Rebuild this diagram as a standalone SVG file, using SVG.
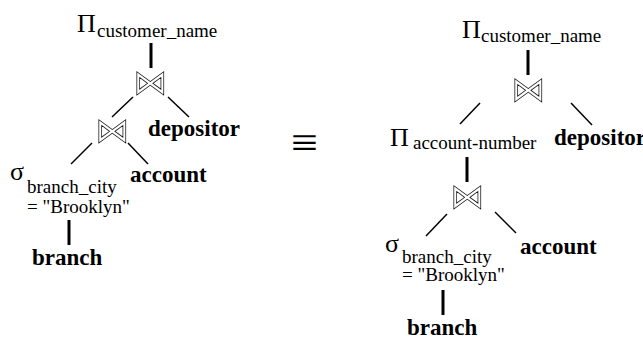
<svg xmlns="http://www.w3.org/2000/svg" width="643" height="338" viewBox="0 0 643 338">
  <defs>
    <!-- keeps the outlined join glyphs neutral grey when antialiased -->
    <filter id="mono" x="-10%" y="-10%" width="120%" height="120%">
      <feColorMatrix type="saturate" values="0"/>
    </filter>
  </defs>
  <style>
    text { font-family: "Liberation Serif", "Times New Roman", serif; fill: #000; }
    .op { font-size: 26px; }
    .sub { font-size: 19px; }
    .rel { font-size: 23px; font-weight: bold; }
    .join { font-family: "DejaVu Sans", sans-serif; font-size: 34px; text-anchor: middle; fill: none; stroke: #111; stroke-width: 0.75; }
    .equiv { font-size: 32px; }
    .thick { stroke: #000; stroke-width: 3; }
    .thin { stroke: #000; stroke-width: 1.5; }
  </style>
  <rect width="643" height="338" fill="#fff"/>

  <!-- connectors -->
  <g id="connectors">
    <!-- left tree -->
    <line class="thick" x1="151" y1="43" x2="151" y2="68"/>
    <line class="thin" x1="133" y1="97" x2="112" y2="117"/>
    <line class="thin" x1="168" y1="97" x2="189" y2="117"/>
    <line class="thin" x1="92" y1="143" x2="71" y2="164"/>
    <line class="thin" x1="128" y1="143" x2="148" y2="164"/>
    <line class="thick" x1="69" y1="220" x2="69" y2="245"/>
    <!-- right tree -->
    <line class="thick" x1="528" y1="50" x2="528" y2="75"/>
    <line class="thin" x1="480" y1="103" x2="460" y2="124"/>
    <line class="thin" x1="571" y1="103" x2="592" y2="125"/>
    <line class="thick" x1="467" y1="157" x2="467" y2="182"/>
    <line class="thin" x1="447" y1="214" x2="426" y2="236"/>
    <line class="thin" x1="495" y1="212" x2="516" y2="233"/>
    <line class="thick" x1="443" y1="290" x2="443" y2="315"/>
  </g>

  <!-- left expression tree -->
  <g id="l-project">
    <text x="77" y="32" class="op">Π</text>
    <text x="97" y="37" class="sub">customer_name</text>
  </g>
  <g id="l-join1" filter="url(#mono)"><text x="150" y="94" class="join">⋈</text></g>
  <g id="l-join2" filter="url(#mono)"><text x="112" y="142" class="join">⋈</text></g>
  <g id="l-depositor"><text x="148" y="136" class="rel">depositor</text></g>
  <g id="l-select">
    <text x="10" y="180" class="op">σ</text>
    <text x="27" y="193" class="sub">branch_city</text>
    <text x="27" y="213" class="sub">= "Brooklyn"</text>
  </g>
  <g id="l-account"><text x="130" y="182" class="rel">account</text></g>
  <g id="l-branch"><text x="32" y="265" class="rel">branch</text></g>

  <!-- equivalence sign, widened to the drawing's proportions -->
  <g id="equiv" transform="translate(291 142) scale(1.5 1.35) translate(-291 -142)">
    <text x="291" y="153" class="equiv">≡</text>
  </g>

  <!-- right expression tree -->
  <g id="r-project">
    <text x="462" y="38" class="op">Π</text>
    <text x="481" y="42" class="sub">customer_name</text>
  </g>
  <g id="r-join1" filter="url(#mono)"><text x="528" y="101" class="join">⋈</text></g>
  <g id="r-project2">
    <text x="390" y="146" class="op">Π</text>
    <text x="413" y="149" class="sub">account-number</text>
  </g>
  <g id="r-depositor"><text x="554" y="145" class="rel">depositor</text></g>
  <g id="r-join2" filter="url(#mono)"><text x="467" y="208" class="join">⋈</text></g>
  <g id="r-select">
    <text x="385" y="252" class="op">σ</text>
    <text x="402" y="263" class="sub">branch_city</text>
    <text x="402" y="281" class="sub">= "Brooklyn"</text>
  </g>
  <g id="r-account"><text x="520" y="254" class="rel">account</text></g>
  <g id="r-branch"><text x="407" y="335" class="rel">branch</text></g>
</svg>
